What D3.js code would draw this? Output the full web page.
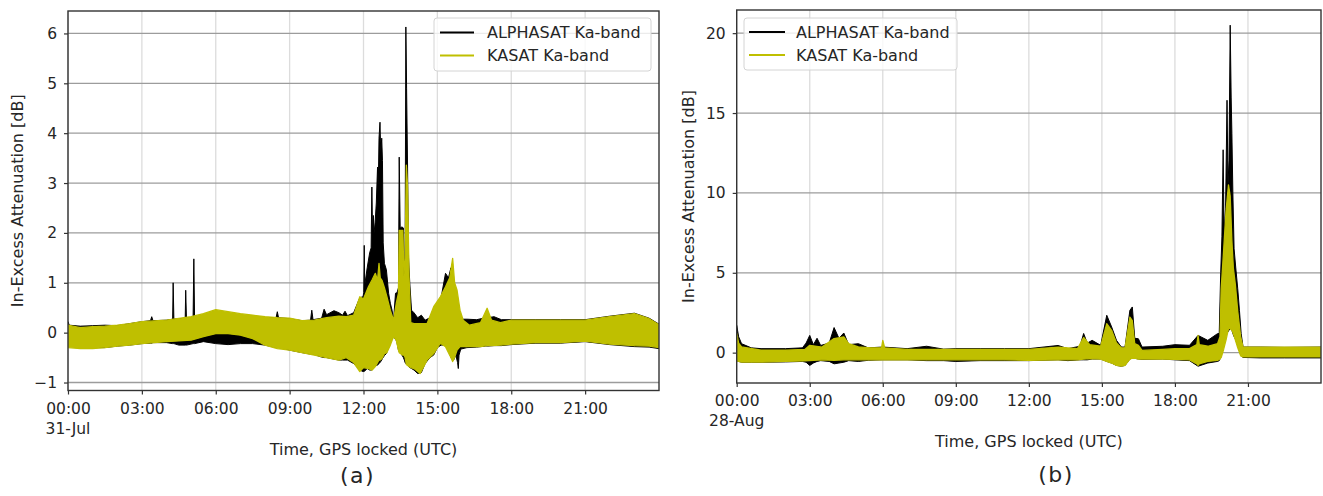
<!DOCTYPE html>
<html>
<head>
<meta charset="utf-8">
<script src="https://cdn.jsdelivr.net/npm/d3@7"></script>
<style>
  body { margin: 0; background: #fff; }
  svg { display: block; }
  text { font-family: "DejaVu Sans", sans-serif; fill: #262626; }
</style>
</head>
<body>
<svg id="fig" width="1323" height="496"></svg>
<script>
// Shared axis content
const hourTicks = [0, 3, 6, 9, 12, 15, 18, 21];
const hourTickLabels = ["00:00", "03:00", "06:00", "09:00", "12:00", "15:00", "18:00", "21:00"];
const julAttenTicks = [-1, 0, 1, 2, 3, 4, 5, 6];
const augAttenTicks = [0, 5, 10, 15, 20];
const seriesNames = ["ALPHASAT Ka-band", "KASAT Ka-band"];
const seriesColors = ["#000000", "#bfbf00"];
const seriesStroke = [1.0, 1.3];

// Envelope of each noisy record: [hour UTC, lower dB, upper dB]
// 31 July
const alphasatJul = [
  [0.00, -0.22, 0.22], [0.05, -0.25, 0.15], [0.5, -0.28, 0.13], [1.0, -0.30, 0.14],
  [1.5, -0.30, 0.15], [2.0, -0.27, 0.14], [2.5, -0.25, 0.18], [3.0, -0.22, 0.22],
  [3.35, -0.21, 0.24], [3.4, -0.21, 0.32], [3.45, -0.20, 0.24], [4.0, -0.20, 0.25],
  [4.25, -0.22, 0.27], [4.27, -0.22, 1.00], [4.30, -0.22, 0.27], [4.5, -0.25, 0.28],
  [4.76, -0.25, 0.29], [4.78, -0.25, 0.85], [4.81, -0.25, 0.29],
  [5.08, -0.22, 0.31], [5.11, -0.22, 1.48], [5.14, -0.22, 0.31],
  [5.5, -0.18, 0.35], [6.0, -0.22, 0.42], [6.5, -0.24, 0.38], [7.0, -0.22, 0.35],
  [7.5, -0.22, 0.33], [8.0, -0.25, 0.30], [8.45, -0.30, 0.30], [8.5, -0.30, 0.42],
  [8.55, -0.30, 0.30], [9.0, -0.35, 0.28], [9.5, -0.40, 0.24], [9.85, -0.43, 0.25],
  [9.9, -0.43, 0.45], [9.95, -0.43, 0.26], [10.3, -0.49, 0.29], [10.4, -0.50, 0.47],
  [10.5, -0.50, 0.36], [10.8, -0.53, 0.44], [11.0, -0.55, 0.40], [11.15, -0.55, 0.35],
  [11.25, -0.55, 0.43], [11.35, -0.55, 0.34], [11.6, -0.62, 0.40],
  [11.85, -0.75, 0.70], [11.98, -0.78, 0.72],
  [12.01, -0.78, 0.80], [12.03, -0.78, 1.75], [12.05, -0.77, 0.95],
  [12.15, -0.72, 1.30], [12.25, -0.75, 1.60],
  [12.31, -0.75, 1.70], [12.34, -0.75, 2.92], [12.37, -0.73, 1.90],
  [12.40, -0.72, 2.35], [12.43, -0.70, 2.00], [12.47, -0.68, 2.20], [12.52, -0.66, 2.60],
  [12.57, -0.65, 3.32], [12.60, -0.64, 2.90], [12.63, -0.62, 3.90], [12.67, -0.60, 4.22],
  [12.70, -0.58, 3.60], [12.74, -0.55, 3.90], [12.77, -0.52, 3.45], [12.80, -0.50, 1.80],
  [12.85, -0.46, 1.39], [12.93, -0.42, 1.26], [13.02, -0.30, 0.79], [13.09, -0.20, 0.59],
  [13.16, -0.12, 0.45], [13.22, -0.10, 0.25], [13.30, -0.12, 0.79], [13.36, -0.20, 0.80],
  [13.42, -0.35, 0.90], [13.45, -0.38, 3.52], [13.49, -0.40, 2.10], [13.56, -0.45, 2.12],
  [13.62, -0.50, 2.10], [13.66, -0.55, 1.20], [13.69, -0.60, 1.50],
  [13.72, -0.62, 6.13], [13.75, -0.64, 4.89], [13.79, -0.66, 3.30], [13.83, -0.68, 1.50],
  [13.88, -0.70, 0.99], [13.95, -0.72, 0.45], [14.05, -0.75, 0.40], [14.2, -0.82, 0.30],
  [14.35, -0.80, 0.35], [14.5, -0.62, 0.25], [14.7, -0.50, 0.30], [14.85, -0.45, 0.45],
  [15.0, -0.30, 0.55], [15.15, -0.25, 0.70], [15.33, -0.25, 1.19], [15.45, -0.35, 1.10],
  [15.55, -0.50, 1.30], [15.66, -0.55, 0.92], [15.75, -0.45, 0.60],
  [15.82, -0.60, 0.50], [15.85, -0.72, 0.45], [15.88, -0.45, 0.35],
  [15.95, -0.33, 0.27], [16.2, -0.30, 0.27], [16.6, -0.29, 0.26], [16.95, -0.27, 0.30],
  [17.0, -0.27, 0.45], [17.05, -0.27, 0.30], [17.3, -0.26, 0.32], [17.6, -0.26, 0.26],
  [18.0, -0.24, 0.26], [19.0, -0.21, 0.26], [20.0, -0.21, 0.26], [21.0, -0.18, 0.26],
  [22.0, -0.24, 0.33], [23.0, -0.28, 0.39], [23.6, -0.29, 0.29], [24.0, -0.32, 0.17]
];
const kasatJul = [
  [0.0, -0.30, 0.15], [0.5, -0.32, 0.10], [1.0, -0.32, 0.12], [1.5, -0.30, 0.13],
  [2.0, -0.27, 0.15], [2.5, -0.25, 0.18], [3.0, -0.22, 0.22], [4.0, -0.18, 0.25],
  [5.0, -0.15, 0.32], [5.5, -0.08, 0.38], [6.0, -0.02, 0.46], [6.5, -0.02, 0.42],
  [7.0, -0.05, 0.38], [7.5, -0.12, 0.35], [8.0, -0.25, 0.32], [8.5, -0.32, 0.30],
  [9.0, -0.35, 0.29], [9.5, -0.40, 0.24], [10.0, -0.45, 0.25], [10.5, -0.50, 0.30],
  [11.0, -0.55, 0.33], [11.3, -0.50, 0.32], [11.6, -0.60, 0.35], [11.85, -0.78, 0.72],
  [12.0, -0.70, 0.68], [12.2, -0.72, 0.92], [12.35, -0.75, 1.06], [12.48, -0.68, 1.19],
  [12.57, -0.60, 1.05], [12.63, -0.55, 1.39], [12.68, -0.55, 1.10], [12.75, -0.52, 1.05],
  [12.85, -0.42, 0.90], [12.95, -0.40, 0.72], [13.09, -0.25, 0.45], [13.22, -0.08, 0.25],
  [13.33, -0.15, 0.59], [13.42, -0.35, 0.79], [13.45, -0.40, 2.05], [13.60, -0.45, 2.05],
  [13.64, -0.45, 1.12], [13.69, -0.50, 1.50], [13.74, -0.64, 3.36], [13.79, -0.66, 2.92],
  [13.85, -0.68, 1.12], [13.92, -0.70, 0.20], [14.05, -0.72, 0.18], [14.3, -0.82, 0.18],
  [14.58, -0.55, 0.18], [14.85, -0.42, 0.52], [15.12, -0.21, 0.72], [15.33, -0.28, 0.92],
  [15.5, -0.45, 1.10], [15.62, -0.58, 1.49], [15.70, -0.50, 1.00], [15.80, -0.35, 0.85],
  [15.92, -0.28, 0.45], [16.05, -0.28, 0.25], [16.3, -0.28, 0.15], [16.75, -0.28, 0.20],
  [17.02, -0.26, 0.49], [17.2, -0.26, 0.25], [17.56, -0.25, 0.20], [18.0, -0.23, 0.25],
  [19.0, -0.20, 0.25], [20.0, -0.20, 0.25], [21.0, -0.17, 0.25], [22.0, -0.23, 0.32],
  [23.0, -0.26, 0.38], [23.6, -0.27, 0.28], [24.0, -0.30, 0.16]
];

// 28 August
const alphasatAug = [
  [0.0, -0.50, 1.71], [0.08, -0.55, 1.00], [0.2, -0.60, 0.56], [0.6, -0.60, 0.30],
  [1.0, -0.60, 0.25], [2.0, -0.58, 0.25], [2.7, -0.55, 0.30], [2.85, -0.60, 0.60],
  [3.0, -0.80, 1.08], [3.15, -0.65, 0.50], [3.3, -0.55, 0.90], [3.45, -0.50, 0.45],
  [3.8, -0.55, 0.60], [4.0, -0.70, 1.57], [4.2, -0.65, 0.90], [4.4, -0.60, 1.23],
  [4.6, -0.50, 0.50], [5.0, -0.55, 0.56], [5.4, -0.48, 0.30], [6.0, -0.45, 0.35],
  [7.0, -0.45, 0.25], [7.8, -0.50, 0.40], [8.5, -0.50, 0.22], [9.0, -0.55, 0.25],
  [10.0, -0.50, 0.25], [11.0, -0.50, 0.25], [12.0, -0.50, 0.25], [13.2, -0.45, 0.45],
  [13.6, -0.50, 0.25], [14.1, -0.45, 0.40], [14.25, -0.45, 1.20], [14.4, -0.45, 0.60],
  [14.6, -0.40, 0.77], [14.95, -0.40, 0.46], [15.2, -0.55, 2.34], [15.4, -0.65, 1.61],
  [15.6, -0.80, 0.77], [15.8, -0.85, 0.35], [15.95, -0.80, 0.35], [16.15, -0.40, 2.65],
  [16.25, -0.35, 2.86], [16.35, -0.35, 0.90], [16.5, -0.40, 0.87], [16.65, -0.42, 0.35],
  [17.5, -0.40, 0.40], [18.0, -0.45, 0.50], [18.6, -0.50, 0.46], [18.95, -0.85, 1.08],
  [19.35, -0.65, 0.77], [19.75, -0.55, 1.19], [19.82, -0.50, 1.20], [19.88, -0.30, 5.00],
  [19.93, 0.30, 7.25], [19.98, 0.80, 12.7], [20.02, 1.00, 7.50], [20.08, 1.20, 9.00],
  [20.14, 1.30, 15.8], [20.18, 1.30, 10.5], [20.22, 1.40, 12.0], [20.27, 1.50, 20.5],
  [20.31, 1.50, 16.0], [20.34, 1.40, 13.7], [20.38, 1.20, 10.0], [20.43, 1.00, 6.50],
  [20.5, 0.80, 5.30], [20.58, 0.40, 4.00], [20.65, 0.10, 2.65], [20.72, -0.20, 1.20],
  [20.8, -0.30, 0.35], [21.5, -0.33, 0.35], [22.5, -0.33, 0.33], [24.0, -0.33, 0.35]
];
const kasatAug = [
  [0.0, -0.50, 1.20], [0.08, -0.55, 0.60], [0.2, -0.59, 0.36], [1.0, -0.59, 0.15],
  [2.0, -0.55, 0.15], [2.8, -0.52, 0.20], [3.0, -0.50, 0.46], [3.5, -0.45, 0.35],
  [4.0, -0.48, 0.88], [4.4, -0.45, 0.98], [4.6, -0.45, 0.56], [5.0, -0.45, 0.36],
  [5.5, -0.45, 0.30], [5.95, -0.45, 0.30], [6.0, -0.45, 0.77], [6.08, -0.45, 0.30],
  [7.0, -0.45, 0.20], [8.0, -0.45, 0.20], [9.0, -0.45, 0.20], [10.0, -0.45, 0.20],
  [11.0, -0.45, 0.20], [12.0, -0.48, 0.20], [13.2, -0.45, 0.35], [14.0, -0.45, 0.25],
  [14.25, -0.40, 0.95], [14.5, -0.38, 0.50], [14.95, -0.40, 0.40], [15.2, -0.55, 1.82],
  [15.4, -0.65, 1.40], [15.6, -0.80, 0.60], [15.8, -0.85, 0.30], [15.95, -0.80, 0.30],
  [16.15, -0.40, 2.23], [16.25, -0.35, 2.00], [16.35, -0.35, 0.56], [16.5, -0.40, 0.46],
  [16.65, -0.40, 0.14], [17.5, -0.40, 0.20], [18.0, -0.42, 0.25], [18.6, -0.45, 0.25],
  [18.9, -0.70, 0.50], [18.95, -0.80, 1.08], [19.0, -0.70, 0.50], [19.35, -0.55, 0.40],
  [19.75, -0.49, 0.56], [19.85, -0.40, 1.00], [19.9, -0.30, 4.00], [20.0, 0.20, 6.40],
  [20.1, 0.80, 8.90], [20.2, 1.50, 10.5], [20.27, 1.50, 9.80], [20.34, 1.40, 7.00],
  [20.4, 1.20, 5.30], [20.48, 0.80, 4.30], [20.58, 0.30, 2.60], [20.7, -0.20, 1.00],
  [20.8, -0.27, 0.35], [22.0, -0.27, 0.35], [24.0, -0.27, 0.35]
];

const panels = [
  { id: "a", left: 68, right: 659, top: 11, bottom: 390.5, yDomain: [-1.16, 6.45],
    yTicks: julAttenTicks, dateLabel: "31-Jul", series: [alphasatJul, kasatJul],
    legend: { x: 434, y: 18, w: 217, h: 53, line0: 440, line1: 474, text: 487, row0: 32.5, row1: 55.5 },
    ylabelX: 17, tag: "(a)", tagX: 357.5, tagY: 483 },
  { id: "b", left: 736.7, right: 1321, top: 10, bottom: 383, yDomain: [-1.9, 21.45],
    yTicks: augAttenTicks, dateLabel: "28-Aug", series: [alphasatAug, kasatAug],
    legend: { x: 744, y: 18, w: 213, h: 52, line0: 749, line1: 785, text: 796, row0: 32, row1: 55 },
    ylabelX: 688, tag: "(b)", tagX: 1056, tagY: 482 }
];

const svg = d3.select("#fig");

function drawPanel(p) {
  const g = svg.append("g");
  const x = d3.scaleLinear().domain([0, 24]).range([p.left, p.right]);
  const y = d3.scaleLinear().domain(p.yDomain).range([p.bottom, p.top]);

  // grid
  g.append("g").selectAll("line").data(hourTicks).join("line")
    .attr("x1", d => x(d)).attr("x2", d => x(d))
    .attr("y1", p.top).attr("y2", p.bottom)
    .attr("stroke", "#dcdcdc").attr("stroke-width", 1.3);
  g.append("g").selectAll("line").data(p.yTicks).join("line")
    .attr("x1", p.left).attr("x2", p.right)
    .attr("y1", d => y(d)).attr("y2", d => y(d))
    .attr("stroke", "#9c9c9c").attr("stroke-width", 1.3);

  // records
  const clipId = "clip-" + p.id;
  svg.append("clipPath").attr("id", clipId).append("rect")
    .attr("x", p.left).attr("y", p.top)
    .attr("width", p.right - p.left).attr("height", p.bottom - p.top);
  const band = d3.area()
    .x(d => x(d[0])).y0(d => y(d[1])).y1(d => y(d[2]));
  p.series.forEach((s, i) => {
    g.append("path").datum(s).attr("d", band)
      .attr("clip-path", `url(#${clipId})`)
      .attr("fill", seriesColors[i]).attr("stroke", seriesColors[i])
      .attr("stroke-width", seriesStroke[i]).attr("stroke-linejoin", "round");
  });

  // axes
  const xAxis = d3.axisBottom(x).tickValues(hourTicks)
    .tickFormat((d, i) => hourTickLabels[i]).tickSizeInner(4).tickSizeOuter(0).tickPadding(8);
  const xg = g.append("g").attr("transform", `translate(0,${p.bottom})`).call(xAxis);
  const yAxis = d3.axisLeft(y).tickValues(p.yTicks).tickSizeInner(4).tickSizeOuter(0).tickPadding(7);
  const yg = g.append("g").attr("transform", `translate(${p.left},0)`).call(yAxis);
  [xg, yg].forEach(a => {
    a.select(".domain").remove();
    a.selectAll(".tick line").attr("stroke", "#333").attr("stroke-width", 1.2);
    a.selectAll(".tick text").attr("font-size", 15.5)
      .attr("font-family", "DejaVu Sans, sans-serif").attr("fill", "#262626");
  });

  // frame
  g.append("rect").attr("x", p.left).attr("y", p.top)
    .attr("width", p.right - p.left).attr("height", p.bottom - p.top)
    .attr("fill", "none").attr("stroke", "#333").attr("stroke-width", 1.4);

  // date under first tick
  g.append("text").attr("x", x(0)).attr("y", p.bottom + 43)
    .attr("text-anchor", "middle").attr("font-size", 15.5).text(p.dateLabel);

  // axis titles
  g.append("text").attr("x", (p.left + p.right) / 2).attr("y", p.bottom + 64)
    .attr("text-anchor", "middle").attr("font-size", 16).text("Time, GPS locked (UTC)");
  g.append("text")
    .attr("transform", `translate(${p.ylabelX},${(p.top + p.bottom) / 2}) rotate(-90)`)
    .attr("text-anchor", "middle").attr("dy", "0.35em").attr("font-size", 16)
    .text("In-Excess Attenuation [dB]");

  // legend
  const L = p.legend;
  const lg = g.append("g");
  lg.append("rect").attr("x", L.x).attr("y", L.y).attr("width", L.w).attr("height", L.h)
    .attr("rx", 3).attr("fill", "#fff").attr("fill-opacity", 0.8)
    .attr("stroke", "#d4d4d4").attr("stroke-width", 1);
  seriesNames.forEach((name, i) => {
    const ry = i === 0 ? L.row0 : L.row1;
    lg.append("line").attr("x1", L.line0).attr("x2", L.line1).attr("y1", ry).attr("y2", ry)
      .attr("stroke", seriesColors[i]).attr("stroke-width", 2.2);
    lg.append("text").attr("x", L.text).attr("y", ry).attr("dy", "0.36em")
      .attr("font-size", 16).text(name);
  });

  // panel tag
  svg.append("text").attr("x", p.tagX).attr("y", p.tagY).attr("text-anchor", "middle")
    .attr("font-family", "Liberation Sans, Arial, sans-serif").attr("font-size", 22)
    .attr("letter-spacing", 1.5).attr("fill", "#111").text(p.tag);
}

panels.forEach(drawPanel);
</script>
</body>
</html>
